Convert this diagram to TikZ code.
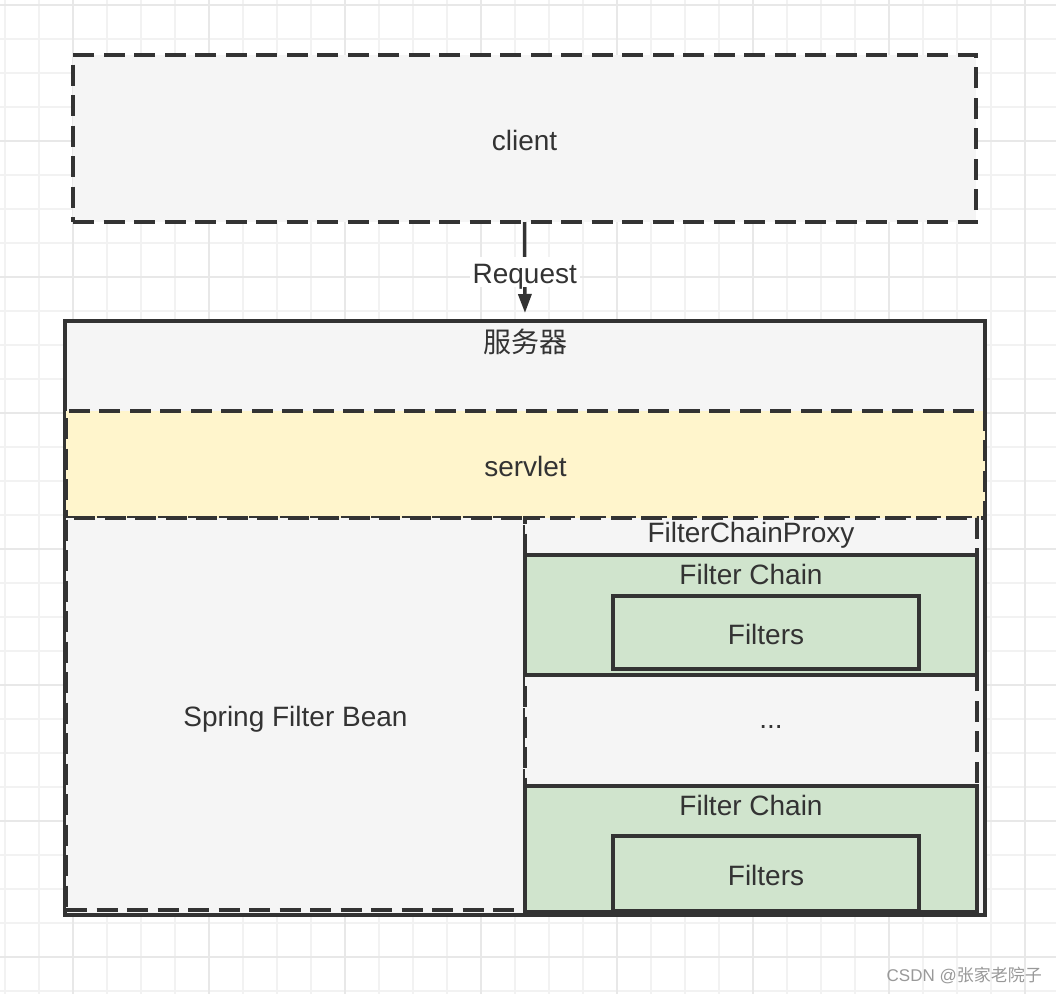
\documentclass[tikz,border=0pt]{standalone}
\usepackage{fontspec}
\setmainfont{Liberation Sans}
\newfontfamily\cjkfont{Noto Sans CJK SC}
\usetikzlibrary{arrows.meta}
\definecolor{inkgray}{HTML}{333333}
\definecolor{boxgray}{HTML}{F5F5F5}
\definecolor{servletyellow}{HTML}{FFF5CC}
\definecolor{chaingreen}{HTML}{D0E4CD}
\definecolor{gridminor}{HTML}{F2F2F2}
\definecolor{gridmajor}{HTML}{E8E8E8}
\tikzset{
  box/.style={draw=inkgray,line width=3.5pt,fill=boxgray,inner sep=0pt,outer sep=0pt,
    text=inkgray,font=\fontsize{28}{34}\selectfont,text height=24pt,text depth=0pt},
  dashbox/.style={box,dash pattern=on 21pt off 9.5pt},
  txt/.style={text=inkgray,font=\fontsize{28}{34}\selectfont,inner sep=1pt,text height=24pt,text depth=0pt},
  flow/.style={draw=inkgray,line width=3.5pt,-{Triangle[length=19pt,width=13pt]},shorten >=8pt},
}
\begin{document}
\begin{tikzpicture}[x=1pt,y=-1pt,line join=miter]
  \useasboundingbox (0,0) rectangle (1056,994);
  \fill[white] (0,0) rectangle (1056,994);
  % grid
  \foreach \k in {0,...,30} \draw[gridminor,line width=1.5pt] ({5+34*\k},0) -- ({5+34*\k},994);
  \foreach \k in {0,...,29} \draw[gridminor,line width=1.5pt] (0,{5+34*\k}) -- (1056,{5+34*\k});
  \foreach \k in {2,6,...,30} \draw[gridmajor,line width=2pt] ({5+34*\k},0) -- ({5+34*\k},994);
  \foreach \k in {0,4,...,28} \draw[gridmajor,line width=2pt] (0,{5+34*\k}) -- (1056,{5+34*\k});

  % client and server
  \node[dashbox,minimum width=903pt,minimum height=167pt] (client) at (524.5,138.5) {client};
  \node[box,minimum width=920pt,minimum height=594pt] (server) at (525,618) {};
  \node[txt] (serverlabel) at (525,340) {\cjkfont 服务器};
  \draw[flow] (client.south) -- node[txt,fill=white,inner sep=3pt] (request) {Request} (server.north);

  % servlet and filters
  \node[dashbox,fill=servletyellow,minimum width=919pt,minimum height=107pt] (servlet) at (525.5,464.5) {servlet};
  \node[dashbox,minimum width=459pt,minimum height=392pt] (springbean) at (295.5,714) {Spring Filter Bean};
  \node[dashbox,minimum width=452pt,minimum height=392pt] (proxy) at (751,714) {};
  \node[txt] (proxylabel) at (751,530) {FilterChainProxy};

  \node[box,fill=chaingreen,minimum width=452pt,minimum height=120pt] (chaina) at (751,615) {};
  \node[txt] (chainalabel) at (751,572) {Filter Chain};
  \node[box,fill=chaingreen,minimum width=306pt,minimum height=73pt] (filtersa) at (766,632.5) {Filters};

  \node[txt] (dots) at (771,716) {...};

  \node[box,fill=chaingreen,minimum width=452pt,minimum height=126pt] (chainb) at (751,849) {};
  \node[txt] (chainblabel) at (751,803) {Filter Chain};
  \node[box,fill=chaingreen,minimum width=306pt,minimum height=75pt] (filtersb) at (766,873.5) {Filters};

  \node[anchor=east,text=gray!80,font=\fontsize{17}{20}\selectfont,inner sep=0pt] (mark) at (1042,975) {CSDN @{\cjkfont 张家老院子}};
\end{tikzpicture}
\end{document}
